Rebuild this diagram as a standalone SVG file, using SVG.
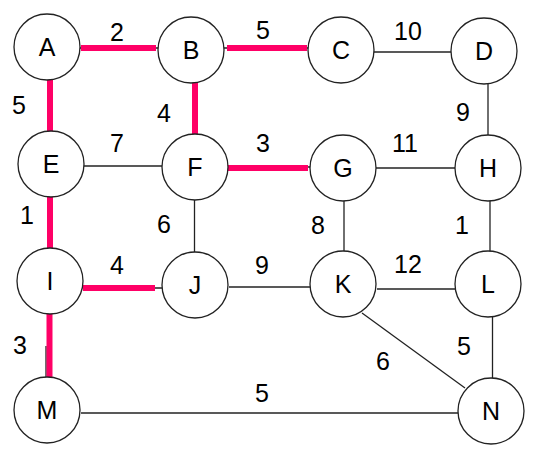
<svg xmlns="http://www.w3.org/2000/svg" width="535" height="451" viewBox="0 0 535 451">
<style>
.n circle{fill:#fff;stroke:#222;stroke-width:1.3}
.n text,.w{font-family:"Liberation Sans",Arial,sans-serif;font-size:25px;fill:#000;text-anchor:middle}
.e{stroke:#222;stroke-width:1.3;fill:none}
.r{stroke:#FF0066;stroke-width:6;fill:none}
</style>
<rect width="535" height="451" fill="#fff"/>
<g id="connectors">
<line class="e" x1="80" y1="48" x2="158" y2="48"/>
<line class="r" x1="81" y1="48" x2="156" y2="48"/>
<line class="e" x1="224" y1="48" x2="308" y2="48"/>
<line class="r" x1="227" y1="48" x2="307" y2="48"/>
<line class="e" x1="374" y1="52" x2="451" y2="52"/>
<line class="r" x1="50" y1="80" x2="50" y2="136"/>
<line class="r" x1="195" y1="80" x2="195" y2="136"/>
<line class="e" x1="84" y1="166" x2="162" y2="166"/>
<line class="e" x1="226" y1="166" x2="311" y2="167"/>
<line class="r" x1="227" y1="168" x2="308" y2="168"/>
<line class="e" x1="376" y1="168" x2="455" y2="168"/>
<line class="e" x1="488" y1="84" x2="488" y2="135"/>
<line class="r" x1="50" y1="196" x2="50" y2="248"/>
<line class="e" x1="194.5" y1="200" x2="194.5" y2="252"/>
<line class="e" x1="344" y1="201" x2="344" y2="251"/>
<line class="e" x1="490" y1="201" x2="490" y2="252"/>
<line class="e" x1="83" y1="288" x2="162" y2="288"/>
<line class="r" x1="83" y1="288" x2="155" y2="288"/>
<line class="e" x1="229" y1="287" x2="310" y2="287"/>
<line class="e" x1="377" y1="289" x2="455" y2="289"/>
<line class="e" x1="46" y1="346" x2="46" y2="378"/>
<line class="r" x1="49.5" y1="314" x2="49.5" y2="377"/>
<line class="e" x1="362" y1="313" x2="465" y2="388"/>
<line class="e" x1="492.5" y1="317" x2="492.5" y2="378"/>
<line class="e" x1="81" y1="413" x2="458" y2="413"/>
</g>
<g id="weights">
<text class="w" x="117" y="41">2</text>
<text class="w" x="263" y="39">5</text>
<text class="w" x="408" y="40">10</text>
<text class="w" x="19" y="114">5</text>
<text class="w" x="164" y="122">4</text>
<text class="w" x="463" y="121">9</text>
<text class="w" x="117" y="152">7</text>
<text class="w" x="263" y="152">3</text>
<text class="w" x="405" y="152">11</text>
<text class="w" x="27" y="224">1</text>
<text class="w" x="164" y="233">6</text>
<text class="w" x="318" y="234">8</text>
<text class="w" x="462" y="234">1</text>
<text class="w" x="117" y="274">4</text>
<text class="w" x="262" y="274">9</text>
<text class="w" x="408" y="273">12</text>
<text class="w" x="20" y="354">3</text>
<text class="w" x="383" y="370">6</text>
<text class="w" x="464" y="355">5</text>
<text class="w" x="262" y="402">5</text>
</g>
<g id="A" class="n"><circle cx="47" cy="47" r="33"/><text x="47" y="56">A</text></g>
<g id="B" class="n"><circle cx="191" cy="50" r="33"/><text x="191" y="59">B</text></g>
<g id="C" class="n"><circle cx="341" cy="50" r="33"/><text x="341" y="59">C</text></g>
<g id="D" class="n"><circle cx="484" cy="51" r="33"/><text x="484" y="60">D</text></g>
<g id="E" class="n"><circle cx="51" cy="164" r="33"/><text x="51" y="173">E</text></g>
<g id="F" class="n"><circle cx="195" cy="167" r="33"/><text x="195" y="176">F</text></g>
<g id="G" class="n"><circle cx="343" cy="168" r="33"/><text x="343" y="177">G</text></g>
<g id="H" class="n"><circle cx="488" cy="168" r="33"/><text x="488" y="177">H</text></g>
<g id="I" class="n"><circle cx="50" cy="281" r="33"/><text x="50" y="290">I</text></g>
<g id="J" class="n"><circle cx="195" cy="285" r="33"/><text x="195" y="294">J</text></g>
<g id="K" class="n"><circle cx="343" cy="284" r="33"/><text x="343" y="293">K</text></g>
<g id="L" class="n"><circle cx="488" cy="284" r="33"/><text x="488" y="293">L</text></g>
<g id="M" class="n"><circle cx="47" cy="410" r="33"/><text x="47" y="419">M</text></g>
<g id="N" class="n"><circle cx="491" cy="411" r="33"/><text x="491" y="420">N</text></g>
</svg>
